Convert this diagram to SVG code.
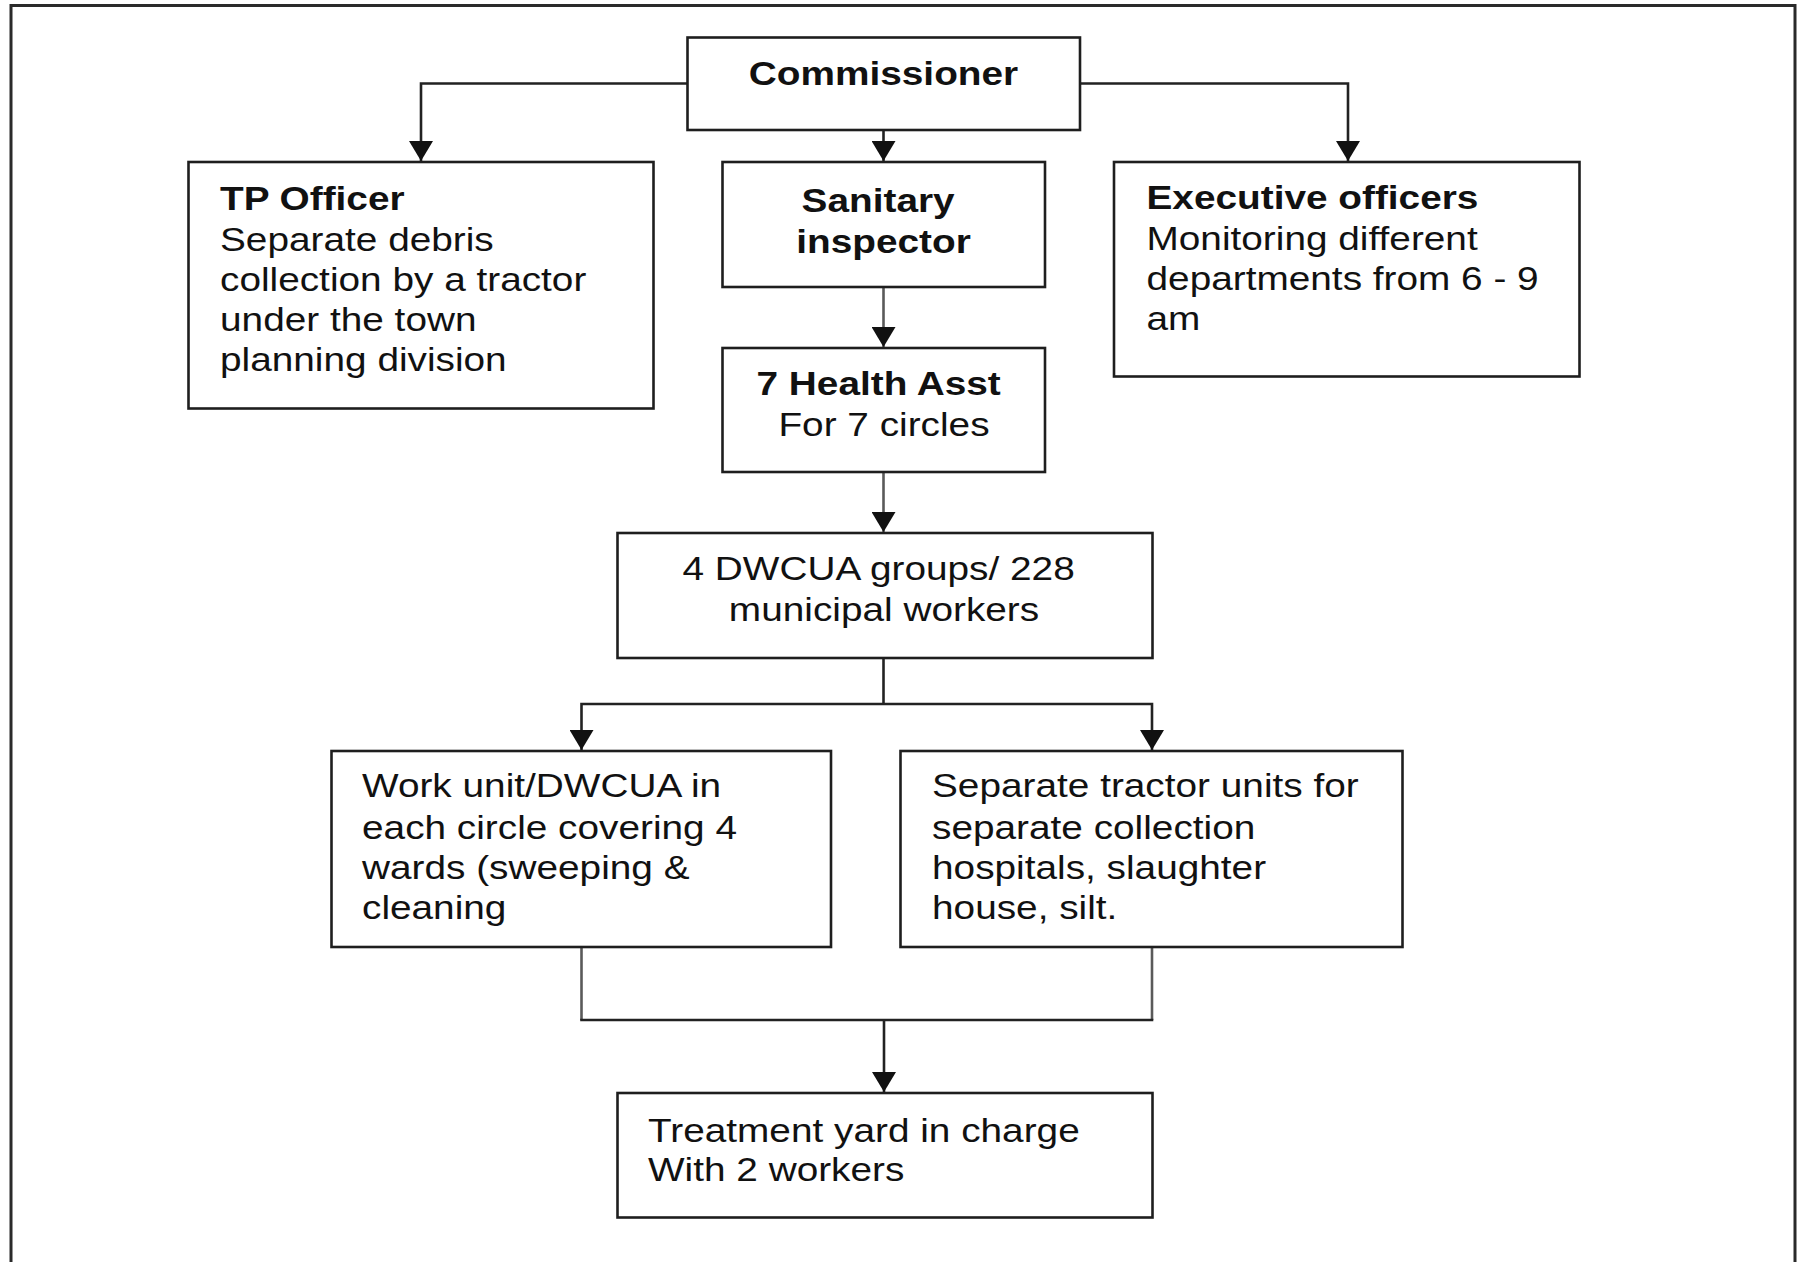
<svg xmlns="http://www.w3.org/2000/svg" width="1801" height="1262" viewBox="0 0 1801 1262">
  <defs>
    <!-- filled triangular arrowhead, drawn pointing along +x so orient="auto" turns it with the line -->
    <marker id="arrow" markerWidth="20" markerHeight="24" refX="20" refY="12" orient="auto-start-reverse" markerUnits="userSpaceOnUse" viewBox="0 0 20 24">
      <path d="M0,0 L20,12 L0,24 Z" fill="#111"/>
    </marker>
    <style>
      .box { fill: #fff; stroke: #1e1e1e; stroke-width: 2.6; }
      .frame { fill: none; stroke: #2a2a2a; stroke-width: 3; }
      .link { fill: none; stroke: #222; stroke-width: 2.6; }
      .link-grey { fill: none; stroke: #5a5a5a; stroke-width: 2.6; }
      text { font-family: "Liberation Sans", Arial, sans-serif; font-size: 33px; fill: #111; }
      .b { font-weight: bold; }
      .mid { text-anchor: middle; }
    </style>
  </defs>

  <rect width="1801" height="1262" fill="#fff"/>
  <!-- outer frame, open at the bottom -->
  <path class="frame" d="M11,1262 V5.5 H1795 V1262"/>

  <!-- connectors -->
  <g id="connectors">
    <path class="link" d="M688,83.5 H421 V161" marker-end="url(#arrow)"/>
    <path class="link" d="M1080,83.5 H1348 V161" marker-end="url(#arrow)"/>
    <path class="link" d="M883.5,130 V161" marker-end="url(#arrow)"/>
    <path class="link-grey" d="M883.5,287 V347" marker-end="url(#arrow)"/>
    <path class="link-grey" d="M883.5,472 V532" marker-end="url(#arrow)"/>
    <path class="link" d="M883.5,658 V704"/>
    <path class="link" d="M581.5,750 V704 H1152 V750" marker-start="url(#arrow)" marker-end="url(#arrow)"/>
    <path class="link-grey" d="M581.5,947 V1020"/>
    <path class="link-grey" d="M1152,947 V1020"/>
    <path class="link" d="M580.2,1020 H1153.3"/>
    <path class="link" d="M884,1020 V1092" marker-end="url(#arrow)"/>
  </g>

  <g id="commissioner">
    <rect class="box" x="687.5" y="37.5" width="392.5" height="92.5"/>
    <text class="b mid" transform="translate(883.5 0) scale(1.175 1)"><tspan x="0" y="85">Commissioner</tspan></text>
  </g>

  <g id="tp-officer">
    <rect class="box" x="188.5" y="162" width="465" height="246.5"/>
    <text transform="translate(220 0) scale(1.175 1)">
      <tspan class="b" x="0" y="210">TP Officer</tspan>
      <tspan x="0" y="251">Separate debris</tspan>
      <tspan x="0" y="291">collection by a tractor</tspan>
      <tspan x="0" y="331">under the town</tspan>
      <tspan x="0" y="371">planning division</tspan>
    </text>
  </g>

  <g id="sanitary-inspector">
    <rect class="box" x="722.5" y="162" width="322.5" height="125"/>
    <text class="b mid" transform="translate(883.5 0) scale(1.175 1)">
      <tspan x="0" y="212">Sanitary</tspan>
      <tspan x="0" y="253">inspector</tspan>
    </text>
  </g>

  <g id="executive-officers">
    <rect class="box" x="1114" y="162" width="465.5" height="214.5"/>
    <text transform="translate(1146.5 0) scale(1.175 1)">
      <tspan class="b" x="0" y="209">Executive officers</tspan>
      <tspan x="0" y="250">Monitoring different</tspan>
      <tspan x="0" y="290">departments from 6 - 9</tspan>
      <tspan x="0" y="330">am</tspan>
    </text>
  </g>

  <g id="health-asst">
    <rect class="box" x="722.5" y="348" width="322.5" height="124"/>
    <text class="mid" transform="translate(884 0) scale(1.175 1)">
      <tspan class="b" x="0" y="395">7 Health Asst</tspan>
      <tspan x="0" y="436">For 7 circles</tspan>
    </text>
  </g>

  <g id="dwcua-groups">
    <rect class="box" x="617.5" y="533" width="535" height="125"/>
    <text class="mid" transform="translate(884 0) scale(1.175 1)">
      <tspan x="0" y="580">4 DWCUA groups/ 228</tspan>
      <tspan x="0" y="621">municipal workers</tspan>
    </text>
  </g>

  <g id="work-unit">
    <rect class="box" x="331.5" y="751" width="499.5" height="196"/>
    <text transform="translate(362 0) scale(1.175 1)">
      <tspan x="0" y="797">Work unit/DWCUA in</tspan>
      <tspan x="0" y="839">each circle covering 4</tspan>
      <tspan x="0" y="879">wards (sweeping &amp;</tspan>
      <tspan x="0" y="919">cleaning</tspan>
    </text>
  </g>

  <g id="tractor-units">
    <rect class="box" x="900.5" y="751" width="502" height="196"/>
    <text transform="translate(932 0) scale(1.175 1)">
      <tspan x="0" y="797">Separate tractor units for</tspan>
      <tspan x="0" y="839">separate collection</tspan>
      <tspan x="0" y="879">hospitals, slaughter</tspan>
      <tspan x="0" y="919">house, silt.</tspan>
    </text>
  </g>

  <g id="treatment-yard">
    <rect class="box" x="617.5" y="1093" width="535" height="124.5"/>
    <text transform="translate(648 0) scale(1.175 1)">
      <tspan x="0" y="1142">Treatment yard in charge</tspan>
      <tspan x="0" y="1181">With 2 workers</tspan>
    </text>
  </g>
</svg>
